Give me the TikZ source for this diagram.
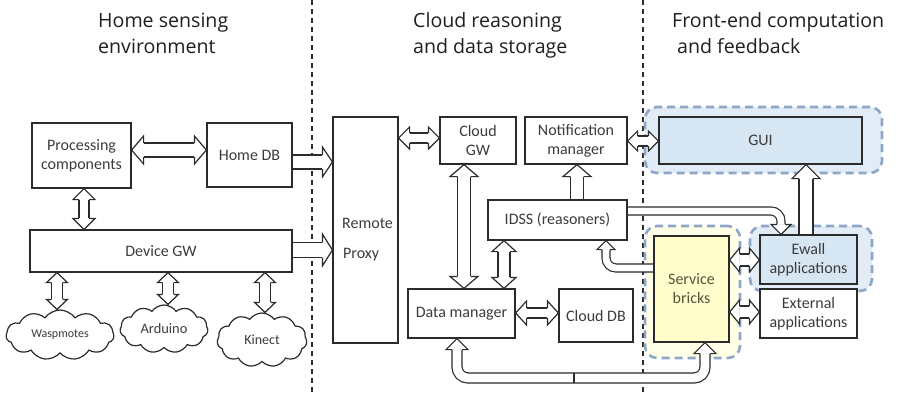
\documentclass[tikz,border=0pt]{standalone}
\usepackage{fontspec}
\setmainfont{Carlito}
\newfontfamily\hfont{Open Sans}
\usetikzlibrary{calc,shapes.symbols}
\definecolor{ink}{HTML}{2B2B2B}
\definecolor{txt}{HTML}{3C3C3C}
\definecolor{bluefill}{HTML}{D7E6F3}
\definecolor{bluehalo}{HTML}{E1ECF6}
\definecolor{haloline}{HTML}{8EA7C6}
\definecolor{yelfill}{HTML}{FFFDCB}
\definecolor{yelhalo}{HTML}{FFFEE6}
\definecolor{oltxt}{HTML}{55553A}
\tikzset{
 box/.style={draw=ink, line width=1.2pt, text=txt, font=\fontsize{16}{19}\selectfont, align=center, inner sep=0pt, rectangle},
 halo/.style={draw=haloline, line width=2.6pt, dash pattern=on 8pt off 5pt, rounded corners=12pt, inner sep=0pt, rectangle},
 ar/.style={draw=ink, line width=1.2pt},
 cloudn/.style={cloud, cloud puffs=11, cloud puff arc=110, cloud ignores aspect, draw=ink, line width=1.2pt, fill=white, text=txt, inner sep=0pt},
 sep/.style={draw=ink, line width=1.1pt, dash pattern=on 5pt off 4pt},
 headt/.style={font=\hfont\fontsize{19.6}{24}\selectfont, text=black!88, anchor=base west, inner sep=0pt},
 txtn/.style={font=\fontsize{16}{19}\selectfont, text=txt, anchor=base west, inner sep=0pt},
}
% arrow head: #1 from, #2 tip, #3 shaft half, #4 head half, #5 head length
\newcommand{\hd}[5]{%
  \coordinate (hb) at ($(#2)!#5pt!(#1)$);
  \filldraw[ar, fill=white] ($(hb)!#3pt!90:(#2)$) -- ($(hb)!#4pt!90:(#2)$) -- (#2) -- ($(hb)!#4pt!-90:(#2)$) -- ($(hb)!#3pt!-90:(#2)$);
}
% double headed straight block arrow
\newcommand{\dar}[5]{%
  \coordinate (pA) at (#1); \coordinate (pB) at (#2);
  \coordinate (qA) at ($(pA)!#5pt!(pB)$); \coordinate (qB) at ($(pB)!#5pt!(pA)$);
  \pgfmathsetmacro\ddist{2*#3-1.2}
  \draw[ar, double=white, double distance=\ddist pt] (qA) -- (qB);
  \hd{pB}{pA}{#3}{#4}{#5}\hd{pA}{pB}{#3}{#4}{#5}
}
% single headed straight block arrow
\newcommand{\sar}[5]{%
  \coordinate (pA) at (#1); \coordinate (pB) at (#2);
  \coordinate (pA') at ($(pA)!0.6pt!(pB)$);
  \coordinate (qB) at ($(pB)!#5pt!(pA)$);
  \pgfmathsetmacro\ddist{2*#3-1.2}
  \draw[ar, double=white, double distance=\ddist pt] (pA') -- (qB);
  \hd{pA}{pB}{#3}{#4}{#5}
}
\begin{document}
\begin{tikzpicture}[x=1pt,y=-1pt]
\useasboundingbox[fill=white] (0,0) rectangle (903,392);
% separators
\draw[sep] (312,0) -- (312,392);
\draw[sep] (643,0) -- (643,392);
% headers
\node[headt] (t1a) at (98,27) {Home sensing};
\node[headt] (t1b) at (98,53) {environment};
\node[headt] (t2a) at (413,27) {Cloud reasoning};
\node[headt] (t2b) at (413,53) {and data storage};
\node[headt] (t3a) at (672,27) {Front-end computation};
\node[headt] (t3b) at (677,53) {and feedback};
% halos
\node[halo, fill=bluehalo, minimum width=237pt, minimum height=66pt] (guih) at (763.5,140) {};
\node[halo, fill=yelhalo, minimum width=95pt, minimum height=132pt] (sbh) at (692.5,292) {};
\node[halo, fill=bluehalo, minimum width=122pt, minimum height=65pt] (ewh) at (811,258.5) {};
% boxes
\node[box, minimum width=99pt, minimum height=65pt] (proc) at (81.5,155.5) {Processing\\components};
\node[box, minimum width=85pt, minimum height=64pt] (hdb) at (249.5,155) {Home DB};
\node[box, minimum width=262pt, minimum height=42pt] (dgw) at (161,251) {Device GW};
\node[cloudn, minimum width=108pt, minimum height=50pt, font=\fontsize{12}{14}\selectfont] (wasp) at (60,335) {Waspmotes};
\node[cloudn, minimum width=88pt, minimum height=48pt, font=\fontsize{14.4}{17}\selectfont] (ard) at (164,329) {Arduino};
\node[cloudn, minimum width=90pt, minimum height=54pt, font=\fontsize{14}{17}\selectfont] (kin) at (262,340) {Kinect};
\node[box, minimum width=65pt, minimum height=226pt] (proxy) at (365.5,230) {};
\node[txtn] (pr1) at (342,228) {Remote};
\node[txtn] (pr2) at (343,258) {Proxy};
\node[box, minimum width=76pt, minimum height=47pt] (cgw) at (478,140.5) {Cloud\\GW};
\node[box, minimum width=102pt, minimum height=47pt] (notif) at (576,140.5) {Notification\\manager};
\node[box, minimum width=139pt, minimum height=40pt] (idss) at (557.5,220) {IDSS (reasoners)};
\node[box, minimum width=107pt, minimum height=49pt] (dm) at (461.5,313.5) {Data manager};
\node[box, minimum width=74pt, minimum height=53pt] (cdb) at (596,315.5) {Cloud DB};
\node[box, fill=bluefill, minimum width=203pt, minimum height=47pt] (gui) at (760.5,140.5) {GUI};
\node[box, fill=yelfill, text=oltxt, minimum width=75pt, minimum height=106pt] (sb) at (691.5,289) {Service\\bricks};
\node[box, fill=bluefill, minimum width=97pt, minimum height=49pt] (ew) at (808.5,259.5) {Ewall\\applications};
\node[box, fill=white, minimum width=97pt, minimum height=49pt] (ext) at (808.5,313.5) {External\\applications};
% straight block arrows
\dar{proc.east |- 0,150}{hdb.west |- 0,150}{7}{14}{12}
\dar{84,0 |- proc.south}{84,0 |- dgw.north}{5}{11}{11}
\sar{hdb.east |- 0,162}{proxy.west |- 0,162}{7}{15}{10}
\sar{dgw.east |- 0,250}{proxy.west |- 0,250}{7.5}{16}{10}
\dar{57,0 |- dgw.south}{57,0 |- wasp.north}{5.5}{10.5}{10}
\dar{168,0 |- dgw.south}{168,0 |- ard.north}{5.5}{10.5}{10}
\dar{265,0 |- dgw.south}{265,0 |- kin.north}{5.5}{10.5}{10}
\dar{proxy.east |- 0,138}{cgw.west |- 0,138}{5}{11}{11}
\dar{464,0 |- cgw.south}{464,0 |- dm.north}{6.5}{14}{12}
\dar{504,0 |- idss.south}{504,0 |- dm.north}{6}{12}{11}
\sar{577,0 |- idss.north}{577,0 |- notif.south}{6.5}{14}{12}
\dar{notif.east |- 0,141}{gui.west |- 0,141}{5}{10}{10}
\dar{dm.east |- 0,313}{cdb.west |- 0,313}{5}{12}{11}
\sar{806,0 |- ew.north}{806,0 |- gui.south}{7}{14}{14}
\dar{sb.east |- 0,260}{ew.west |- 0,260}{6}{12}{10}
\dar{sb.east |- 0,312}{ext.west |- 0,312}{6}{12}{10}
% IDSS -> Ewall
\coordinate (i1) at ($(idss.east |- 0,211)+(0.6,0)$);
\coordinate (i2) at (781,211);
\coordinate (i3) at (781,0 |- ew.north);
\pgfmathsetmacro\ddist{2*4-1.2}
\draw[ar, double=white, double distance=\ddist pt, rounded corners=10pt] (i1) -- (i2) -- ($(i3)+(0,-10)$);
\hd{i2}{i3}{4}{10}{10}
% Service bricks -> IDSS
\coordinate (s1) at ($(sb.west |- 0,268)+(-0.6,0)$);
\coordinate (s2) at (606,268);
\coordinate (s3) at (606,0 |- idss.south);
\pgfmathsetmacro\ddist{2*4-1.2}
\draw[ar, double=white, double distance=\ddist pt, rounded corners=10pt] (s1) -- (s2) -- ($(s3)+(0,9)$);
\hd{s2}{s3}{4}{9}{9}
% Data manager <-> Service bricks (bottom loop)
\coordinate (l1) at (457,0 |- dm.south);
\coordinate (l2) at (457,378);
\coordinate (l3) at (705,378);
\coordinate (l4) at (705,0 |- sb.south);
\pgfmathsetmacro\ddist{2*5-1.2}
\draw[ar, double=white, double distance=\ddist pt, rounded corners=11pt] ($(l1)+(0,11)$) -- (l2) -- (l3) -- ($(l4)+(0,11)$);
\hd{l2}{l1}{5}{11}{11}
\hd{l3}{l4}{5}{11}{11}
\draw[ar] (574,373) -- (574,383);
\end{tikzpicture}
\end{document}
